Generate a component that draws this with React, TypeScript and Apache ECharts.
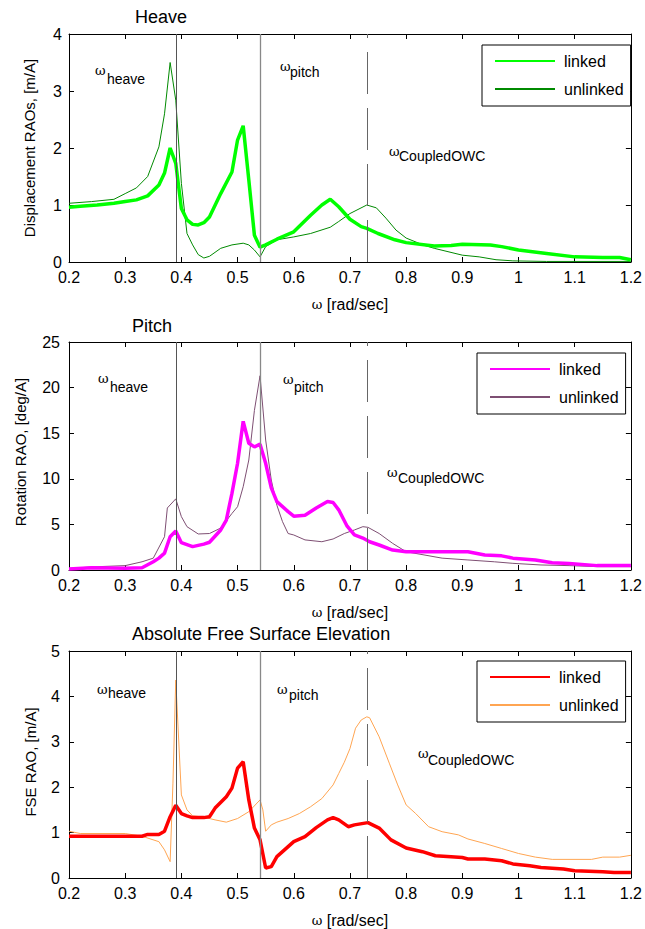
import React, { useEffect, useRef } from 'react';
import * as echarts from 'echarts';

const FONT = "'Liberation Sans', Arial, sans-serif";

// ---------- data ----------
const xTickMin = 0.2;
const xTickMax = 1.2;
const naturalFreqs = [0.39, 0.54, 0.73];

const heaveLinked = [[0.2,0.96],[0.22,0.98],[0.25,1.0],[0.28,1.03],[0.3,1.06],[0.32,1.09],[0.34,1.16],[0.36,1.35],[0.37,1.56],[0.38,2.0],[0.39,1.73],[0.40,0.94],[0.41,0.74],[0.42,0.66],[0.43,0.65],[0.44,0.69],[0.45,0.79],[0.47,1.2],[0.49,1.58],[0.50,2.14],[0.51,2.39],[0.52,1.44],[0.53,0.47],[0.54,0.26],[0.55,0.3],[0.57,0.4],[0.6,0.53],[0.63,0.82],[0.65,1.0],[0.665,1.1],[0.68,0.97],[0.7,0.75],[0.72,0.62],[0.73,0.59],[0.75,0.5],[0.78,0.39],[0.8,0.34],[0.85,0.28],[0.88,0.29],[0.9,0.31],[0.95,0.3],[0.97,0.27],[1.0,0.21],[1.05,0.15],[1.1,0.09],[1.15,0.08],[1.18,0.08],[1.2,0.04]];
const heaveUnlinked = [[0.2,1.03],[0.24,1.06],[0.28,1.1],[0.3,1.2],[0.32,1.3],[0.34,1.5],[0.36,2.02],[0.37,2.6],[0.38,3.5],[0.39,2.84],[0.40,1.38],[0.41,0.5],[0.42,0.3],[0.43,0.13],[0.44,0.07],[0.45,0.1],[0.47,0.24],[0.49,0.3],[0.51,0.33],[0.52,0.3],[0.53,0.21],[0.54,0.09],[0.55,0.27],[0.57,0.39],[0.6,0.44],[0.63,0.5],[0.665,0.61],[0.68,0.71],[0.7,0.85],[0.73,1.0],[0.747,0.95],[0.764,0.77],[0.782,0.56],[0.8,0.42],[0.83,0.3],[0.85,0.24],[0.9,0.12],[0.93,0.09],[0.96,0.04],[0.99,0.02],[1.05,0.01],[1.2,0.01]];

const pitchLinked = [[0.2,0.1],[0.24,0.25],[0.3,0.2],[0.33,0.25],[0.35,0.9],[0.36,1.3],[0.37,1.85],[0.38,3.65],[0.39,4.27],[0.40,3.0],[0.42,2.56],[0.44,2.84],[0.45,3.04],[0.47,4.39],[0.48,5.48],[0.49,8.4],[0.50,11.7],[0.51,16.3],[0.52,13.9],[0.53,13.5],[0.54,13.8],[0.55,11.7],[0.56,9.0],[0.57,7.5],[0.59,6.4],[0.6,5.9],[0.62,6.0],[0.64,6.8],[0.66,7.5],[0.67,7.4],[0.68,6.6],[0.695,4.8],[0.708,3.84],[0.723,3.5],[0.735,3.1],[0.752,2.74],[0.776,2.19],[0.8,2.0],[0.85,2.0],[0.91,2.0],[0.94,1.64],[0.97,1.55],[0.99,1.3],[1.03,1.1],[1.06,0.8],[1.09,0.7],[1.14,0.48],[1.2,0.48]];
const pitchUnlinked = [[0.2,0.18],[0.25,0.36],[0.3,0.48],[0.33,0.9],[0.35,1.3],[0.37,3.65],[0.375,6.8],[0.39,7.8],[0.40,5.85],[0.41,4.75],[0.43,3.95],[0.45,4.0],[0.47,4.6],[0.49,6.2],[0.50,6.94],[0.51,9.13],[0.52,12.06],[0.53,17.5],[0.54,21.3],[0.55,14.25],[0.56,9.87],[0.57,7.1],[0.58,5.3],[0.59,4.0],[0.6,3.84],[0.62,3.3],[0.65,3.1],[0.67,3.4],[0.69,4.0],[0.708,4.39],[0.723,4.75],[0.732,4.68],[0.752,4.0],[0.776,2.92],[0.8,2.0],[0.823,1.75],[0.864,1.3],[0.91,1.1],[0.957,0.9],[0.99,0.73],[1.04,0.55],[1.09,0.48],[1.14,0.37],[1.2,0.37]];

const fseLinked = [[0.2,0.92],[0.25,0.92],[0.3,0.92],[0.33,0.92],[0.34,0.96],[0.36,0.96],[0.37,1.03],[0.38,1.35],[0.39,1.6],[0.40,1.42],[0.41,1.37],[0.42,1.33],[0.44,1.33],[0.45,1.35],[0.46,1.54],[0.48,1.79],[0.49,1.98],[0.50,2.42],[0.51,2.56],[0.52,1.72],[0.53,1.1],[0.54,0.84],[0.55,0.22],[0.56,0.25],[0.57,0.47],[0.59,0.69],[0.6,0.8],[0.62,0.91],[0.64,1.11],[0.66,1.28],[0.67,1.33],[0.68,1.28],[0.697,1.13],[0.708,1.17],[0.732,1.22],[0.752,1.1],[0.773,0.84],[0.8,0.66],[0.829,0.58],[0.852,0.49],[0.88,0.47],[0.9,0.45],[0.91,0.42],[0.94,0.42],[0.97,0.38],[0.99,0.31],[1.02,0.27],[1.04,0.23],[1.08,0.2],[1.1,0.16],[1.15,0.14],[1.17,0.12],[1.2,0.12]];
const fseUnlinked = [[0.2,1.03],[0.22,0.98],[0.3,0.98],[0.33,0.92],[0.36,0.8],[0.37,0.62],[0.38,0.36],[0.385,2.09],[0.39,4.36],[0.40,1.83],[0.41,1.5],[0.42,1.37],[0.44,1.34],[0.46,1.28],[0.48,1.23],[0.5,1.31],[0.52,1.46],[0.54,1.72],[0.545,1.5],[0.55,1.03],[0.56,1.17],[0.57,1.23],[0.59,1.31],[0.61,1.42],[0.63,1.57],[0.65,1.75],[0.67,2.05],[0.68,2.3],[0.69,2.55],[0.7,2.85],[0.71,3.3],[0.72,3.48],[0.73,3.55],[0.735,3.53],[0.752,3.11],[0.77,2.53],[0.785,2.05],[0.8,1.61],[0.817,1.42],[0.84,1.13],[0.864,1.02],[0.893,0.95],[0.91,0.86],[0.94,0.76],[0.97,0.65],[1.0,0.54],[1.03,0.46],[1.06,0.41],[1.13,0.41],[1.15,0.46],[1.18,0.46],[1.2,0.5]];

const panelTitles = ['Heave', 'Pitch', 'Absolute Free Surface Elevation'];
const yAxisTitles = ['Displacement RAOs, [m/A]', 'Rotation RAO, [deg/A]', 'FSE RAO, [m/A]'];
const yMax = [4, 25, 5];
const yInterval = [1, 5, 1];
const legendNames = ['linked', 'unlinked'];

// ---------- layout / style ----------
const grids = [
  { left: 69, top: 34, width: 569, height: 228 },
  { left: 69, top: 342, width: 569, height: 228 },
  { left: 69, top: 651, width: 569, height: 227 },
];
const colors = [
  ['#00ff00', '#008a00'],
  ['#ff00ff', '#7e4f73'],
  ['#ff0000', '#ffa552'],
];
const seriesData = [
  [heaveLinked, heaveUnlinked],
  [pitchLinked, pitchUnlinked],
  [fseLinked, fseUnlinked],
];
const legendPos = [
  { left: 482, top: 45 },
  { left: 477, top: 353 },
  { left: 477, top: 661 },
];
const yLabelMargin = [7, 9, 9];
const yTitlePos = [
  { x: 29, y: 148 },
  { x: 20, y: 452 },
  { x: 30, y: 762 },
];
const titlePos = [
  { x: 135, y: 17 },
  { x: 132, y: 326 },
  { x: 132, y: 634 },
];
// annotation positions: [omegaX, omegaY, subX, subY, subscript]
const annots = [
  [[95, 70, 107, 79, 'heave'], [280, 66, 290, 72, 'pitch'], [389, 151, 399, 156, 'CoupledOWC']],
  [[98, 378, 110, 387, 'heave'], [283, 379, 294, 387, 'pitch'], [387, 472, 398, 478, 'CoupledOWC']],
  [[97, 689, 108, 693, 'heave'], [277, 689, 289, 695, 'pitch'], [418, 753, 428, 760, 'CoupledOWC']],
];

const fmtX = (v: number) => String(Math.round(v * 10) / 10);

function buildOption() {
  const xAxis: any[] = [];
  const yAxis: any[] = [];
  const series: any[] = [];
  const legend: any[] = [];
  const graphic: any[] = [];

  grids.forEach((g, i) => {
    const common = {
      type: 'value',
      gridIndex: i,
      axisLine: { show: true, onZero: false, lineStyle: { color: '#000', width: 1 } },
      axisTick: { show: true, inside: true, length: 5, lineStyle: { color: '#000' } },
      splitLine: { show: false },
    };
    xAxis.push({
      ...common,
      position: 'bottom',
      min: xTickMin,
      max: xTickMax,
      interval: 0.1,
      axisLabel: { show: true, color: '#000', fontSize: 16, fontFamily: FONT, margin: 7, formatter: fmtX },
      name: '{w|ω} [rad/sec]',
      nameLocation: 'middle',
      nameGap: 34,
      nameTextStyle: {
        color: '#000',
        fontSize: 16,
        fontFamily: FONT,
        rich: { w: { fontSize: 13, fontFamily: "'DejaVu Serif', serif", color: '#000' } },
      },
    });
    xAxis.push({
      ...common,
      position: 'top',
      min: xTickMin,
      max: xTickMax,
      interval: 0.1,
      axisLabel: { show: false },
    });
    yAxis.push({
      ...common,
      position: 'left',
      min: 0,
      max: yMax[i],
      interval: yInterval[i],
      axisLabel: { show: true, color: '#000', fontSize: 16, fontFamily: FONT, margin: yLabelMargin[i] },
    });
    yAxis.push({
      ...common,
      position: 'right',
      min: 0,
      max: yMax[i],
      interval: yInterval[i],
      axisLabel: { show: false },
    });

    const prefix = panelTitles[i].split(' ')[0];
    const names = legendNames.map((n) => prefix + ' ' + n);
    series.push({
      type: 'line',
      name: names[1],
      xAxisIndex: 2 * i,
      yAxisIndex: 2 * i,
      data: seriesData[i][1],
      symbol: 'none',
      showSymbol: false,
      z: 2,
      color: colors[i][1],
      lineStyle: { color: colors[i][1], width: 1 },
      markLine: {
        silent: true,
        symbol: 'none',
        label: { show: false },
        animation: false,
        data: naturalFreqs.map((f, k) => ({
          xAxis: f,
          lineStyle: {
            color: k === 0 ? '#555' : k === 1 ? '#888' : '#666',
            width: k === 1 ? 1.3 : 1,
            type: k === 2 ? [42, 14] : 'solid',
          },
        })),
      },
    });
    series.push({
      type: 'line',
      name: names[0],
      xAxisIndex: 2 * i,
      yAxisIndex: 2 * i,
      data: seriesData[i][0],
      symbol: 'none',
      showSymbol: false,
      z: 3,
      color: colors[i][0],
      lineStyle: { color: colors[i][0], width: 3.5 },
    });
    legend.push({
      ...legendPos[i],
      orient: 'vertical',
      data: names,
      selectedMode: false,
      itemWidth: 60,
      itemHeight: 14,
      itemGap: 12,
      padding: [8, 7, 9, 12],
      borderColor: '#000',
      borderWidth: 1,
      borderRadius: 0,
      backgroundColor: '#fff',
      itemStyle: { opacity: 0 },
      formatter: (n: string) => n.split(' ').slice(1).join(' '),
      textStyle: { color: '#000', fontSize: 16, fontFamily: FONT, padding: [0, 0, 0, 4] },
    });

    graphic.push({
      type: 'text',
      x: titlePos[i].x,
      y: titlePos[i].y,
      style: { text: panelTitles[i], fill: '#000', fontSize: 18, fontFamily: FONT, align: 'left', verticalAlign: 'middle' },
    });
    graphic.push({
      type: 'text',
      x: yTitlePos[i].x,
      y: yTitlePos[i].y,
      rotation: Math.PI / 2,
      style: { text: yAxisTitles[i], fill: '#000', fontSize: 15, fontFamily: FONT, align: 'center', verticalAlign: 'middle' },
    });
    annots[i].forEach((a) => {
      graphic.push({
        type: 'text',
        x: a[0],
        y: a[1],
        style: { text: 'ω', fill: '#000', fontSize: 13, fontFamily: "'DejaVu Serif', serif", align: 'left', verticalAlign: 'middle' },
      });
      graphic.push({
        type: 'text',
        x: a[2],
        y: a[3],
        style: { text: a[4], fill: '#000', fontSize: 14, fontFamily: FONT, align: 'left', verticalAlign: 'middle' },
      });
    });
  });

  return {
    animation: false,
    backgroundColor: '#fff',
    grid: grids,
    xAxis,
    yAxis,
    series,
    legend,
    graphic,
  };
}

export default function App() {
  const ref = useRef<HTMLDivElement>(null);
  useEffect(() => {
    if (!ref.current) return;
    const chart = echarts.init(ref.current, undefined, { renderer: 'svg' });
    chart.setOption(buildOption() as any);
    return () => chart.dispose();
  }, []);
  return (
    <div
      ref={ref}
      style={{ position: 'absolute', left: 0, top: 0, width: 645, height: 929, background: '#fff' }}
    />
  );
}
